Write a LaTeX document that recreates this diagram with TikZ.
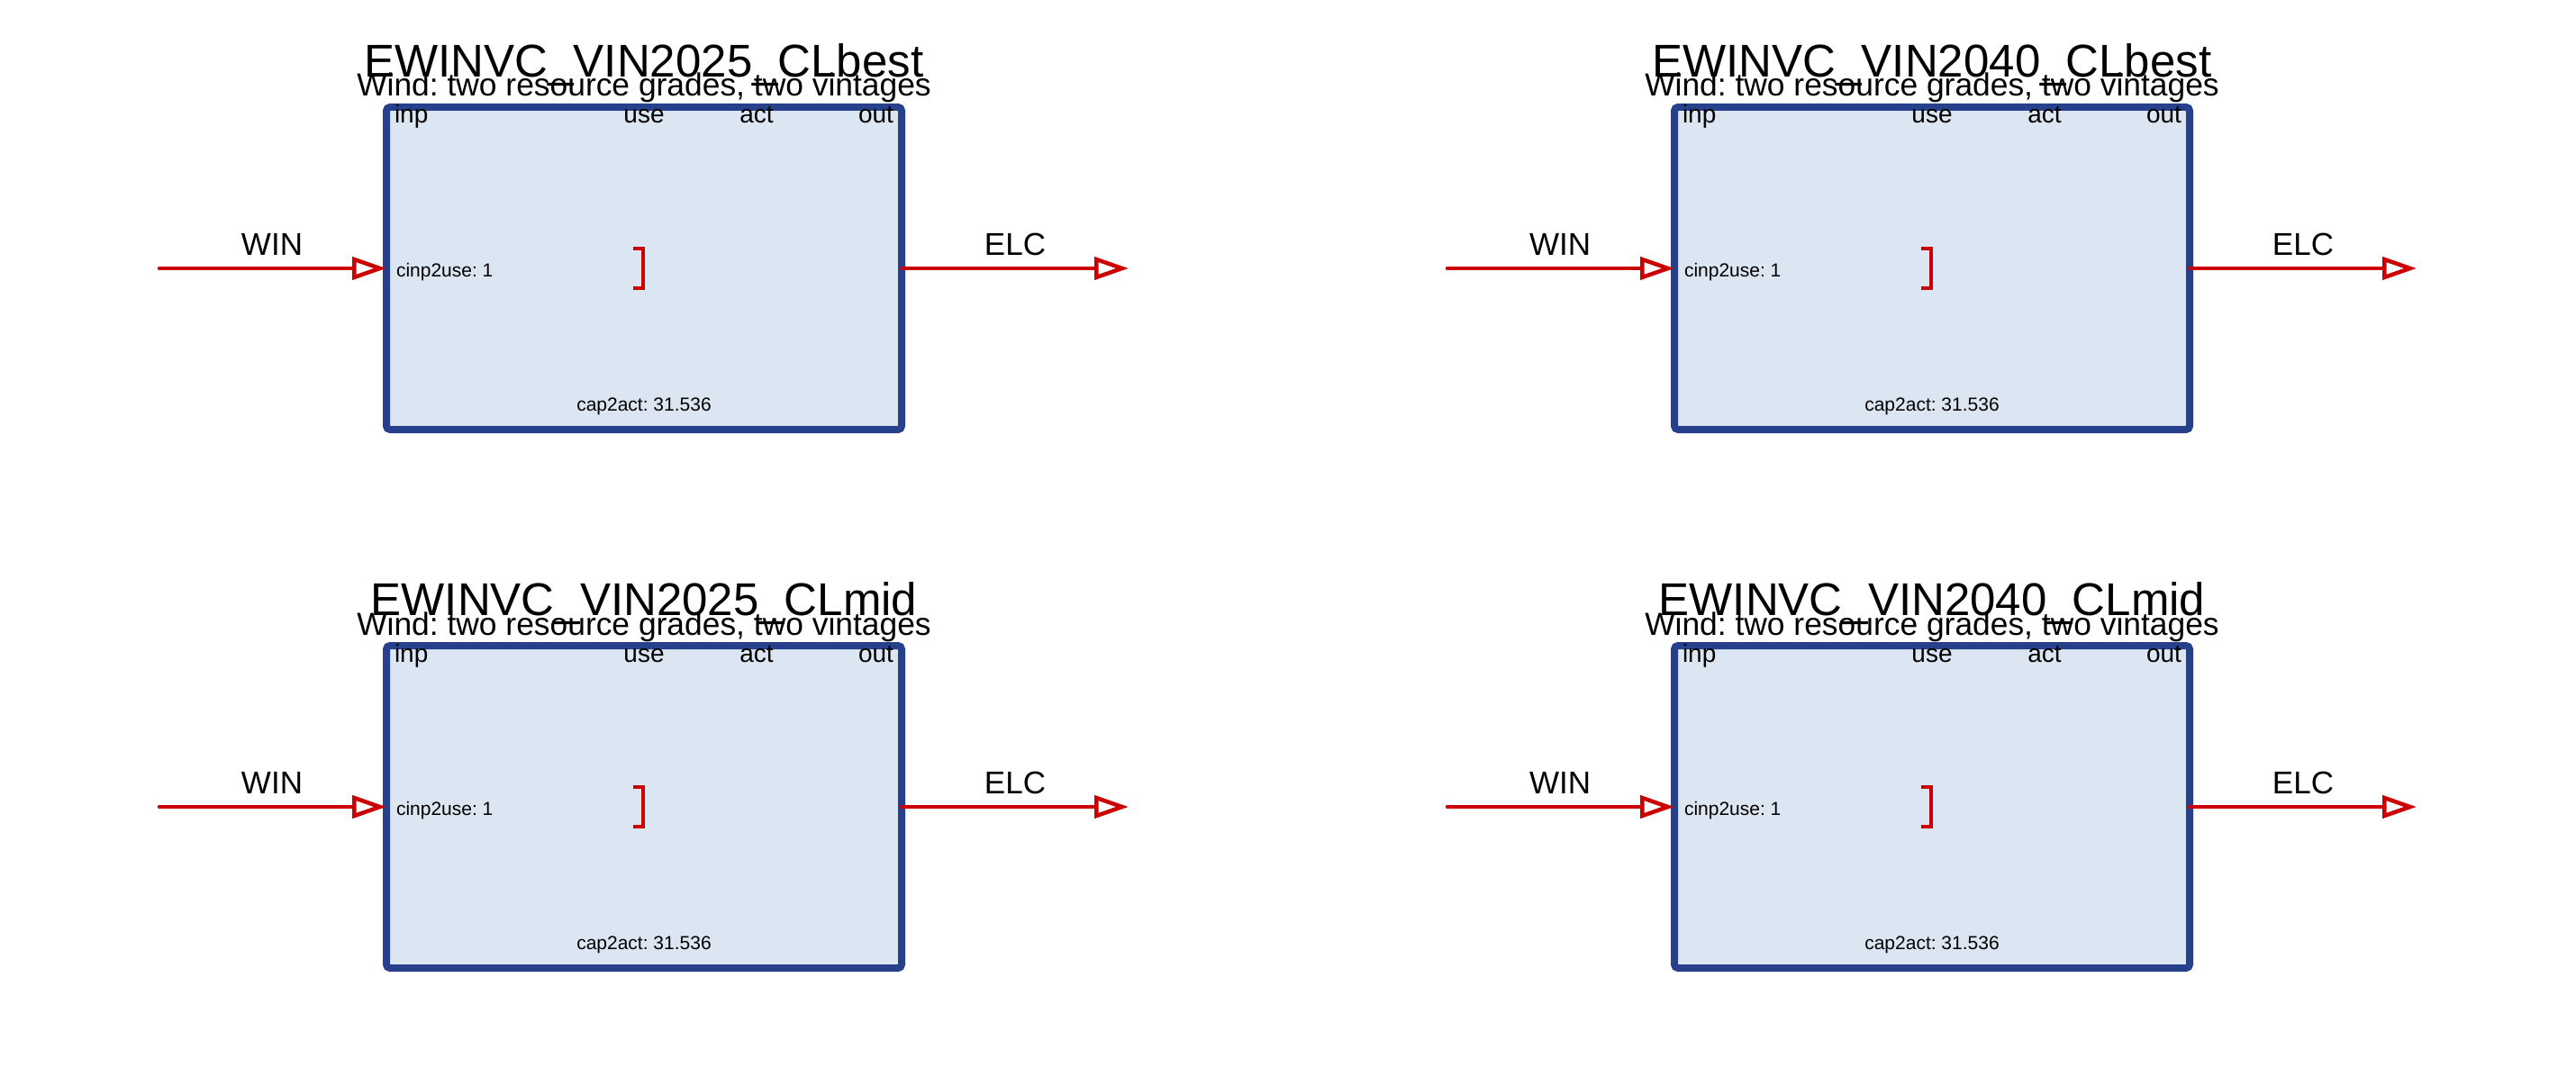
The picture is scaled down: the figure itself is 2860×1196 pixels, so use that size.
\documentclass[tikz,border=0pt]{standalone}
\usepackage{fontspec}
\setmainfont{Liberation Sans}
\usetikzlibrary{arrows.meta}
\frenchspacing
\definecolor{boxblue}{RGB}{39,64,139}
\definecolor{boxfill}{RGB}{220,230,242}
\definecolor{flowred}{RGB}{204,0,0}
\tikzset{
  procbox/.style={draw=boxblue, fill=boxfill, line width=8pt, rounded corners=4pt,
    minimum width=572pt, minimum height=358pt, inner sep=0pt, outer sep=0pt},
  flow/.style={draw=flowred, line width=4.5pt, line cap=round,
    -{Triangle[open,length=38pt,width=25pt,line cap=butt]}},
  bracketline/.style={draw=flowred, line width=4pt},
  txt/.style={inner sep=0pt, outer sep=0pt, anchor=base, text=black},
  titletxt/.style={txt, font=\fontsize{51pt}{51pt}\selectfont},
  subtxt/.style={txt, font=\fontsize{35.4pt}{35.4pt}\selectfont},
  porttxt/.style={txt, font=\fontsize{28pt}{28pt}\selectfont},
  flowtxt/.style={txt, font=\fontsize{35pt}{35pt}\selectfont},
  smalltxt/.style={txt, font=\fontsize{21pt}{21pt}\selectfont},
}
\newcommand\drawpanel[4]{%
  \begin{scope}[shift={(#2,#3)}]
    \node[procbox] (box#1) at (715,298) {};
    \node[titletxt] (title#1) at (715,85.5) {#4};
    \node[subtxt] (sub#1) at (715,107) {Wind: two resource grades, two vintages};
    \node[porttxt, anchor=base west] (inp#1) at (438,137) {inp};
    \node[porttxt] (use#1) at (715,137) {use};
    \node[porttxt] (act#1) at (840,137) {act};
    \node[porttxt, anchor=base east] (out#1) at (992,137) {out};
    \node[smalltxt, anchor=base west] (cin#1) at (440,307) {cinp2use: 1};
    \node[smalltxt] (cap#1) at (715,456) {cap2act: 31.536};
    \draw[bracketline] (703,276) -- (714,276) -- (714,320) -- (703,320);
    \coordinate (src#1) at (177,298);
    \coordinate (dst#1) at (1253,298);
    \draw[flow] (src#1) -- (box#1.west);
    \draw[flow] (box#1.east) -- (dst#1);
    \node[flowtxt] (win#1) at (302,283) {WIN};
    \node[flowtxt] (elc#1) at (1127,283) {ELC};
  \end{scope}}
\begin{document}
\begin{tikzpicture}[x=1pt, y=-1pt]
  \useasboundingbox (0,0) rectangle (2860,1196);
  \fill[white] (0,0) rectangle (2860,1196);
  \drawpanel{a}{0}{0}{EWINVC\_VIN2025\_CLbest}
  \drawpanel{b}{1430}{0}{EWINVC\_VIN2040\_CLbest}
  \drawpanel{c}{0}{598}{EWINVC\_VIN2025\_CLmid}
  \drawpanel{d}{1430}{598}{EWINVC\_VIN2040\_CLmid}
\end{tikzpicture}
\end{document}
